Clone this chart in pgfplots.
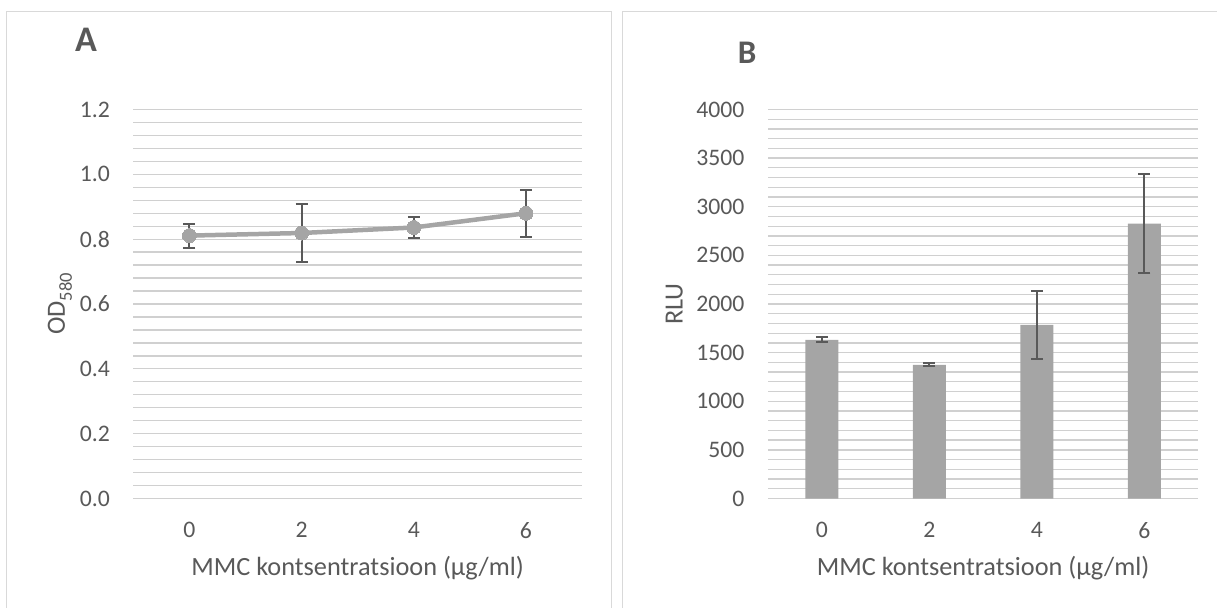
\documentclass[border=0pt]{standalone}
\usepackage{fontspec}
\setmainfont{Carlito}
\usepackage{pgfplots}
\pgfplotsset{compat=1.18}
\definecolor{txt}{HTML}{595959}
\definecolor{gridc}{HTML}{D0D0D0}
\definecolor{ser}{HTML}{A5A5A5}
\definecolor{errc}{HTML}{595959}
\definecolor{framec}{HTML}{D9D9D9}
\pgfplotsset{
 common/.style={
  scale only axis,
  height=389bp,
  axis line style={draw=none},
  major tick length=0pt, minor tick length=0pt,
  ymajorgrids, yminorgrids,
  major grid style={gridc, line width=1.3bp},
  minor grid style={gridc, line width=1.3bp},
  minor y tick num=4,
  xmin=-0.5, xmax=3.5,
  xtick={0,1,2,3}, xticklabels={0,2,4,6},
  ticklabel style={font=\fontsize{23.7bp}{28bp}\selectfont, text=txt, inner sep=0pt},
  yticklabel style={anchor=east, xshift=-23.4bp},
  xticklabel style={anchor=north, yshift=-23.5bp},
  xlabel style={at={(axis description cs:0.5,0)}, anchor=base, yshift=-77.3bp, inner sep=0pt, font=\fontsize{26.3bp}{30bp}\selectfont, text=txt},
  clip=false,
 }
}
\begin{document}
\begin{tikzpicture}
\useasboundingbox (0,0) rectangle (1217bp,608bp);
% panel frames
\draw[framec, line width=1.5bp] (6.7bp,-2bp) -- (6.7bp,596.3bp) -- (611.7bp,596.3bp) -- (611.7bp,-2bp);
\draw[framec, line width=1.5bp] (622.3bp,-2bp) -- (622.3bp,596.3bp) -- (1220bp,596.3bp);
% titles
\node[anchor=base west, inner sep=0pt, text=txt, font=\fontsize{36bp}{40bp}\selectfont\bfseries] at (75bp,556.3bp) {A};
\node[anchor=base west, inner sep=0pt, text=txt, font=\fontsize{33bp}{38bp}\selectfont\bfseries] at (737.7bp,544bp) {B};
% Panel A
\begin{axis}[common,
  at={(133.4bp,109.5bp)}, anchor=south west,
  width=448.6bp,
  ymin=0, ymax=1.2,
  ytick={0,0.2,0.4,0.6,0.8,1.0,1.2},
  yticklabels={0.0,0.2,0.4,0.6,0.8,1.0,1.2},
  xlabel={MMC kontsentratsioon (µg/ml)},
  ylabel={OD\raisebox{-7bp}{\fontsize{18.5bp}{20bp}\selectfont 580}},
  ylabel style={at={(axis description cs:-0.1525,0.5)}, anchor=base, inner sep=0pt, font=\fontsize{26.3bp}{30bp}\selectfont, text=txt},
]
\addplot[ser, line width=4.5bp, mark=*, mark size=7bp, mark options={fill=ser, draw=ser, line width=0pt},
  error bars/.cd, y dir=both, y explicit,
  error bar style={errc, line width=2bp},
  error mark options={rotate=90, mark size=6bp, errc, line width=2bp}]
  coordinates {
  (0,0.811) +- (0,0.037)
  (1,0.819) +- (0,0.090)
  (2,0.836) +- (0,0.031)
  (3,0.880) +- (0,0.073)
  };
\end{axis}
% Panel B
\begin{axis}[common,
  at={(768bp,109.5bp)}, anchor=south west,
  width=430.2bp,
  ymin=0, ymax=4000,
  ytick={0,500,1000,1500,2000,2500,3000,3500,4000},
  yticklabels={0,500,1000,1500,2000,2500,3000,3500,4000},
  xlabel={MMC kontsentratsioon (µg/ml)},
  ylabel={RLU},
  ylabel style={at={(axis description cs:-0.1985,0.5)}, anchor=base, inner sep=0pt, font=\fontsize{26.3bp}{30bp}\selectfont, text=txt},
  ybar, bar width=33bp,
]
\addplot[fill=ser, draw=none,
  error bars/.cd, y dir=both, y explicit,
  error bar style={errc, line width=2bp},
  error mark options={rotate=90, mark size=6bp, errc, line width=2bp}]
  coordinates {
  (0,1632) +- (0,24)
  (1,1374) +- (0,16)
  (2,1785) +- (0,352)
  (3,2826) +- (0,510)
  };
\end{axis}
\end{tikzpicture}
\end{document}
